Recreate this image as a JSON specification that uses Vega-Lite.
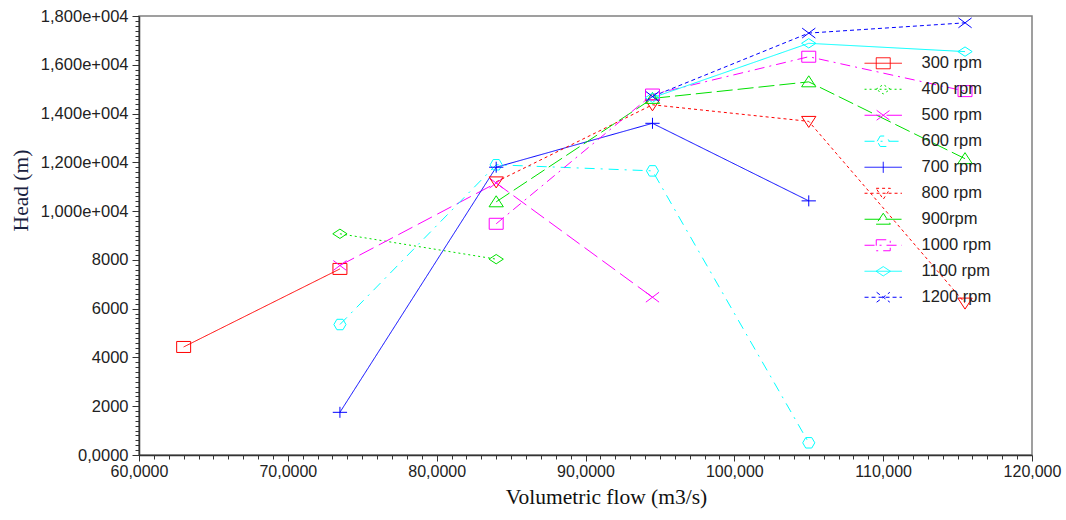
{
  "$schema": "https://vega.github.io/schema/vega-lite/v6.json",
  "width": 893,
  "height": 439,
  "autosize": "none",
  "padding": {"left": 139, "top": 16, "right": 34, "bottom": 65},
  "background": "white",
  "config": {
    "view": {"stroke": "#808080", "strokeWidth": 1.5},
    "font": "Liberation Sans"
  },
  "data": {
    "values": [
      {"series": "300 rpm", "flow": 63000, "head": 4430},
      {"series": "300 rpm", "flow": 73500, "head": 7630},
      {"series": "400 rpm", "flow": 73500, "head": 9070},
      {"series": "400 rpm", "flow": 84000, "head": 8030},
      {"series": "500 rpm", "flow": 73500, "head": 7770},
      {"series": "500 rpm", "flow": 84000, "head": 11150},
      {"series": "500 rpm", "flow": 94500, "head": 6470},
      {"series": "600 rpm", "flow": 73500, "head": 5350},
      {"series": "600 rpm", "flow": 84000, "head": 11900},
      {"series": "600 rpm", "flow": 94500, "head": 11650},
      {"series": "600 rpm", "flow": 105000, "head": 500},
      {"series": "700 rpm", "flow": 73500, "head": 1750},
      {"series": "700 rpm", "flow": 84000, "head": 11800},
      {"series": "700 rpm", "flow": 94500, "head": 13600},
      {"series": "700 rpm", "flow": 105000, "head": 10420},
      {"series": "800 rpm", "flow": 84000, "head": 11200},
      {"series": "800 rpm", "flow": 94500, "head": 14360},
      {"series": "800 rpm", "flow": 105000, "head": 13680},
      {"series": "800 rpm", "flow": 115500, "head": 6230},
      {"series": "900rpm", "flow": 84000, "head": 10380},
      {"series": "900rpm", "flow": 94500, "head": 14620},
      {"series": "900rpm", "flow": 105000, "head": 15300},
      {"series": "900rpm", "flow": 115500, "head": 12150},
      {"series": "1000 rpm", "flow": 84000, "head": 9480},
      {"series": "1000 rpm", "flow": 94500, "head": 14780},
      {"series": "1000 rpm", "flow": 105000, "head": 16330},
      {"series": "1000 rpm", "flow": 115500, "head": 14920},
      {"series": "1100 rpm", "flow": 94500, "head": 14650},
      {"series": "1100 rpm", "flow": 105000, "head": 16880},
      {"series": "1100 rpm", "flow": 115500, "head": 16540},
      {"series": "1200 rpm", "flow": 94500, "head": 14700},
      {"series": "1200 rpm", "flow": 105000, "head": 17300},
      {"series": "1200 rpm", "flow": 115500, "head": 17720}
    ]
  },
  "encoding": {
    "x": {
      "field": "flow",
      "type": "quantitative",
      "scale": {"domain": [60000, 120000], "nice": false, "zero": false},
      "axis": {
        "values": [60000,61000,62000,63000,64000,65000,66000,67000,68000,69000,70000,71000,72000,73000,74000,75000,76000,77000,78000,79000,80000,81000,82000,83000,84000,85000,86000,87000,88000,89000,90000,91000,92000,93000,94000,95000,96000,97000,98000,99000,100000,101000,102000,103000,104000,105000,106000,107000,108000,109000,110000,111000,112000,113000,114000,115000,116000,117000,118000,119000,120000],
        "labelExpr": "datum.value % 10000 !== 0 ? '' : (datum.value < 100000 ? format(datum.value / 1000, 'd') + ',0000' : format(datum.value / 1000, 'd') + ',000')",
        "labelOverlap": false,
        "labelFlush": false,
        "grid": false,
        "tickSize": {"condition": {"test": "datum.value % 10000 === 0", "value": 6}, "value": 4},
        "tickColor": "#333333",
        "domainColor": "#333333",
        "domainWidth": 1.5,
        "labelFont": "Liberation Sans",
        "labelFontSize": 16,
        "labelColor": "#222222",
        "labelPadding": 2,
        "title": "Volumetric flow (m3/s)",
        "titleFont": "Liberation Serif",
        "titleFontSize": 21.5,
        "titleFontWeight": "normal",
        "titleColor": "#111111",
        "titleX": 467,
        "titleY": 42,
        "titleAlign": "center",
        "titleBaseline": "middle"
      }
    },
    "y": {
      "field": "head",
      "type": "quantitative",
      "scale": {"domain": [0, 18000], "nice": false},
      "axis": {
        "values": [0,200,400,600,800,1000,1200,1400,1600,1800,2000,2200,2400,2600,2800,3000,3200,3400,3600,3800,4000,4200,4400,4600,4800,5000,5200,5400,5600,5800,6000,6200,6400,6600,6800,7000,7200,7400,7600,7800,8000,8200,8400,8600,8800,9000,9200,9400,9600,9800,10000,10200,10400,10600,10800,11000,11200,11400,11600,11800,12000,12200,12400,12600,12800,13000,13200,13400,13600,13800,14000,14200,14400,14600,14800,15000,15200,15400,15600,15800,16000,16200,16400,16600,16800,17000,17200,17400,17600,17800,18000],
        "labelExpr": "datum.value % 2000 !== 0 ? '' : (datum.value === 0 ? '0,0000' : (datum.value < 10000 ? format(datum.value, 'd') : replace(format(datum.value / 10000, '.3f'), '.', ',') + 'e+004'))",
        "labelOverlap": false,
        "labelFlush": false,
        "grid": false,
        "tickSize": {"condition": {"test": "datum.value % 2000 === 0", "value": 7}, "value": 4},
        "tickColor": "#333333",
        "domainColor": "#333333",
        "domainWidth": 1.5,
        "labelFont": "Liberation Sans",
        "labelFontSize": 16.5,
        "labelColor": "#222222",
        "labelPadding": 4,
        "title": "Head (m)",
        "titleFont": "Liberation Serif",
        "titleFontSize": 21.5,
        "titleFontWeight": "normal",
        "titleColor": "#1a2240",
        "titleX": -118,
        "titleY": 174,
        "titleAngle": -90,
        "titleAlign": "center",
        "titleBaseline": "middle"
      }
    }
  },
  "layer": [
    {
      "mark": {"type": "line", "strokeWidth": 1},
      "encoding": {
        "detail": {"field": "series"},
        "color": {
          "field": "series", "type": "nominal", "legend": null,
          "scale": {
            "domain": ["300 rpm","400 rpm","500 rpm","600 rpm","700 rpm","800 rpm","900rpm","1000 rpm","1100 rpm","1200 rpm"],
            "range": ["#ff0000","#00e000","#ff00ff","#00ffff","#0000ff","#ff0000","#00e000","#ff00ff","#00ffff","#0000ff"]
          }
        },
        "strokeDash": {
          "field": "series", "type": "nominal", "legend": null,
          "scale": {
            "domain": ["300 rpm","400 rpm","500 rpm","600 rpm","700 rpm","800 rpm","900rpm","1000 rpm","1100 rpm","1200 rpm"],
            "range": [[1,0],[2,3],[16,6],[10,6,2,6],[1,0],[3,3],[16,5],[10,5,2,5],[1,0],[4,3]]
          }
        }
      }
    },
    {
      "mark": {"type": "point", "filled": false, "size": 121, "strokeWidth": 1, "opacity": 1},
      "encoding": {
        "color": {
          "field": "series", "type": "nominal", "legend": null,
          "scale": {
            "domain": ["300 rpm","400 rpm","500 rpm","600 rpm","700 rpm","800 rpm","900rpm","1000 rpm","1100 rpm","1200 rpm"],
            "range": ["#ff0000","#00e000","#ff00ff","#00ffff","#0000ff","#ff0000","#00e000","#ff00ff","#00ffff","#0000ff"]
          }
        },
        "shape": {
          "field": "series", "type": "nominal", "legend": null,
          "scale": {
            "domain": ["300 rpm","400 rpm","500 rpm","600 rpm","700 rpm","800 rpm","900rpm","1000 rpm","1100 rpm","1200 rpm"],
            "range": [
              "M-1.27,-1H1.27V1H-1.27Z",
              "M-1.3,0L0,-0.85L1.3,0L0,0.85Z",
              "M-1.2,-0.9L1.2,0.9M-1.2,0.9L1.2,-0.9",
              "M-1.1,0L-0.55,-0.95H0.55L1.1,0L0.55,0.95H-0.55Z",
              "M-1.3,0H1.3M0,-1V1",
              "M-1.3,-0.9H1.3L0,1.1Z",
              "M-1.3,0.9H1.3L0,-1.1Z",
              "M-1.27,-1H1.27V1H-1.27Z",
              "M-1.3,0L0,-0.85L1.3,0L0,0.85Z",
              "M-1.2,-0.9L1.2,0.9M-1.2,0.9L1.2,-0.9"
            ]
          }
        }
      }
    },
    {
      "mark": {"type": "point", "filled": false, "size": 121, "strokeWidth": 1, "opacity": 0},
      "encoding": {
        "color": {
          "field": "series", "type": "nominal",
          "legend": {"title": null, "orient": "none", "legendX": 736, "legendY": 39, "labelFontSize": 16.5, "labelFont": "Liberation Sans", "labelColor": "#222222", "symbolSize": 121, "symbolStrokeWidth": 1, "labelOffset": 30, "rowPadding": 9, "padding": 0},
          "scale": {
            "domain": ["300 rpm","400 rpm","500 rpm","600 rpm","700 rpm","800 rpm","900rpm","1000 rpm","1100 rpm","1200 rpm"],
            "range": ["#ff0000","#00e000","#ff00ff","#00ffff","#0000ff","#ff0000","#00e000","#ff00ff","#00ffff","#0000ff"]
          }
        },
        "shape": {
          "field": "series", "type": "nominal",
          "legend": {"title": null, "orient": "none", "legendX": 736, "legendY": 39, "labelFontSize": 16.5, "labelFont": "Liberation Sans", "labelColor": "#222222", "symbolSize": 121, "symbolStrokeWidth": 1, "labelOffset": 30, "rowPadding": 9, "padding": 0},
          "scale": {
            "domain": ["300 rpm","400 rpm","500 rpm","600 rpm","700 rpm","800 rpm","900rpm","1000 rpm","1100 rpm","1200 rpm"],
            "range": [
              "M-3.4,0H3.4M-1.27,-1H1.27V1H-1.27Z",
              "M-3.4,0H3.4M-1.3,0L0,-0.85L1.3,0L0,0.85Z",
              "M-3.4,0H3.4M-1.2,-0.9L1.2,0.9M-1.2,0.9L1.2,-0.9",
              "M-3.4,0H3.4M-1.1,0L-0.55,-0.95H0.55L1.1,0L0.55,0.95H-0.55Z",
              "M-3.4,0H3.4M0,-1V1",
              "M-3.4,0H3.4M-1.3,-0.9H1.3L0,1.1Z",
              "M-3.4,0H3.4M-1.3,0.9H1.3L0,-1.1Z",
              "M-3.4,0H3.4M-1.27,-1H1.27V1H-1.27Z",
              "M-3.4,0H3.4M-1.3,0L0,-0.85L1.3,0L0,0.85Z",
              "M-3.4,0H3.4M-1.2,-0.9L1.2,0.9M-1.2,0.9L1.2,-0.9"
            ]
          }
        },
        "strokeDash": {
          "field": "series", "type": "nominal",
          "legend": {"title": null, "orient": "none", "legendX": 736, "legendY": 39, "labelFontSize": 16.5, "labelFont": "Liberation Sans", "labelColor": "#222222", "symbolSize": 121, "symbolStrokeWidth": 1, "labelOffset": 30, "rowPadding": 9, "padding": 0},
          "scale": {
            "domain": ["300 rpm","400 rpm","500 rpm","600 rpm","700 rpm","800 rpm","900rpm","1000 rpm","1100 rpm","1200 rpm"],
            "range": [[1,0],[2,3],[16,6],[10,6,2,6],[1,0],[3,3],[16,5],[10,5,2,5],[1,0],[4,3]]
          }
        }
      }
    }
  ],
  "resolve": {"scale": {"color": "independent", "shape": "independent", "strokeDash": "independent"}}
}
